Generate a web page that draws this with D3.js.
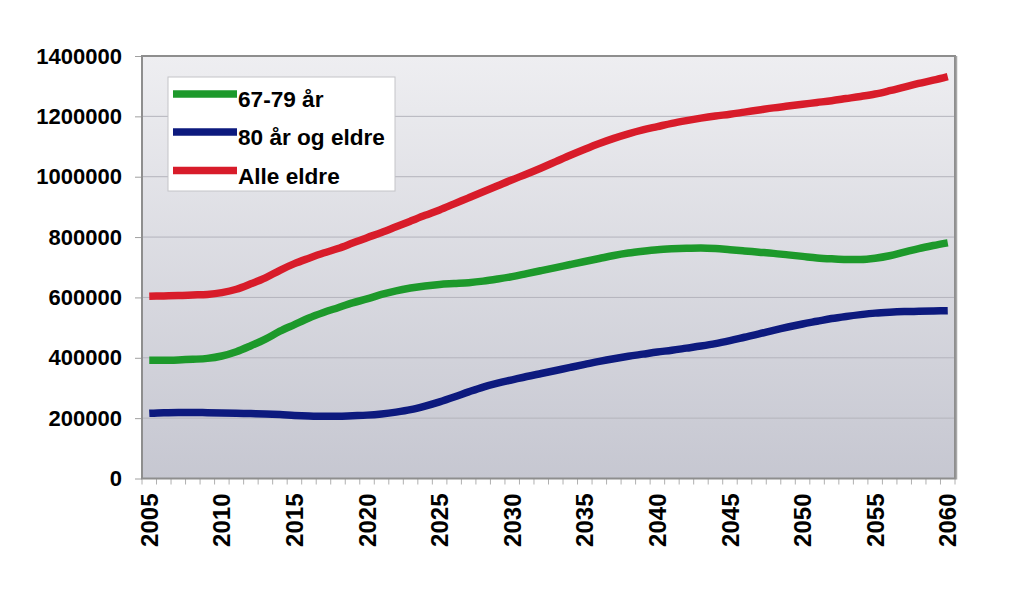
<!DOCTYPE html>
<html>
<head>
<meta charset="utf-8">
<script src="https://cdn.jsdelivr.net/npm/d3@7"></script>
<style>
  html, body { margin: 0; padding: 0; background: #ffffff; }
  svg { display: block; }
  text { font-family: "Liberation Sans", Arial, sans-serif; font-weight: bold; fill: #000; }
</style>
</head>
<body>
<svg id="chart" width="1023" height="595"></svg>
<script>
// ---- Data ----
const years = d3.range(2005, 2061);
const seriesNames = ["67-79 år", "80 år og eldre", "Alle eldre"];
const seriesColors = ["#1d992b", "#0d1a7e", "#d81c2a"];

const age6779 = [
  392000, 392000, 393000, 395000, 398000, 406000, 420000, 440000, 462000, 488000,
  510000, 532000, 550000, 566000, 582000, 595000, 610000, 622000, 631000, 638000,
  643000, 646000, 649000, 654000, 661000, 669000, 679000, 689000, 699000, 709000,
  719000, 729000, 739000, 747000, 753000, 758000, 761000, 763000, 764000, 762000,
  758000, 754000, 750000, 746000, 741000, 736000, 731000, 728000, 726000, 726000,
  730000, 738000, 750000, 762000, 772000, 781000
];
const age80plus = [
  216000, 218000, 219000, 219000, 218000, 217000, 216000, 215000, 214000, 212000,
  209000, 207000, 206000, 206000, 208000, 210000, 214000, 220000, 228000, 240000,
  254000, 270000, 287000, 303000, 316000, 327000, 338000, 348000, 358000, 368000,
  378000, 388000, 397000, 405000, 412000, 419000, 425000, 432000, 439000, 447000,
  457000, 468000, 479000, 491000, 502000, 512000, 521000, 530000, 537000, 543000,
  548000, 551000, 553000, 554000, 555000, 556000
];
const alleEldre = [
  604000, 605000, 606000, 608000, 610000, 616000, 627000, 645000, 665000, 690000,
  712000, 730000, 747000, 762000, 780000, 798000, 815000, 834000, 853000, 872000,
  890000, 910000, 930000, 950000, 970000, 990000, 1009000, 1029000, 1050000, 1071000,
  1091000, 1110000, 1127000, 1142000, 1155000, 1166000, 1177000, 1186000, 1194000, 1201000,
  1207000, 1214000, 1221000, 1228000, 1234000, 1240000, 1246000, 1252000, 1259000, 1266000,
  1274000, 1285000, 1297000, 1309000, 1320000, 1332000
];
const yTicks = [0, 200000, 400000, 600000, 800000, 1000000, 1200000, 1400000];
const xLabelYears = [2005, 2010, 2015, 2020, 2025, 2030, 2035, 2040, 2045, 2050, 2055, 2060];

const allSeries = [age6779, age80plus, alleEldre];

// ---- Layout ----
const svg = d3.select("#chart");
const plot = { left: 142, right: 955, top: 56, bottom: 478.5 };

const x = d3.scalePoint().domain(years).range([plot.left, plot.right]).padding(0.5);
const y = d3.scaleLinear().domain([0, 1400000]).range([plot.bottom, plot.top]);

// background gradient
const defs = svg.append("defs");
const grad = defs.append("linearGradient").attr("id", "bg").attr("x1", 0).attr("y1", 0).attr("x2", 0).attr("y2", 1);
grad.append("stop").attr("offset", "0%").attr("stop-color", "#eeeef1");
grad.append("stop").attr("offset", "100%").attr("stop-color", "#c6c7d1");

svg.append("rect")
  .attr("x", plot.left).attr("y", plot.top)
  .attr("width", plot.right - plot.left).attr("height", plot.bottom - plot.top)
  .attr("fill", "url(#bg)");

// gridlines
svg.append("g").selectAll("line").data(yTicks.filter(d => d > 0 && d < 1400000)).join("line")
  .attr("x1", plot.left).attr("x2", plot.right)
  .attr("y1", d => y(d)).attr("y2", d => y(d))
  .attr("stroke", "#b4b4bc").attr("stroke-width", 1);

// y axis
const yAxis = d3.axisLeft(y).tickValues(yTicks).tickSize(7).tickPadding(13).tickFormat(d3.format("d"));
const gy = svg.append("g").attr("transform", `translate(${plot.left},0)`).call(yAxis);
gy.select(".domain").remove();
gy.selectAll(".tick line").attr("stroke", "#a0a0a0");
gy.selectAll(".tick text").style("font-size", "22px").style("font-weight", "bold")
  .style("font-family", '"Liberation Sans", Arial, sans-serif').attr("fill", "#000");

// x axis ticks at category boundaries
const step = x.step();
const boundaries = d3.range(years.length + 1).map(i => plot.left + i * step);
svg.append("g").selectAll("line").data(boundaries).join("line")
  .attr("x1", d => d).attr("x2", d => d)
  .attr("y1", plot.bottom).attr("y2", plot.bottom + 6)
  .attr("stroke", "#b0b0b0").attr("stroke-width", 1);

// x labels
svg.append("g").selectAll("text").data(xLabelYears).join("text")
  .attr("transform", d => `translate(${x(d)},${plot.bottom + 15}) rotate(-90)`)
  .attr("text-anchor", "end")
  .attr("dy", "0.36em")
  .style("font-size", "24px")
  .text(d => d);

// plot border
svg.append("rect")
  .attr("x", plot.left).attr("y", plot.top)
  .attr("width", plot.right - plot.left).attr("height", plot.bottom - plot.top)
  .attr("fill", "none").attr("stroke", "#8e8e8e").attr("stroke-width", 2);
svg.append("line")
  .attr("x1", plot.right + 1.5).attr("x2", plot.right + 1.5)
  .attr("y1", plot.top).attr("y2", plot.bottom + 1)
  .attr("stroke", "#a8a8a8").attr("stroke-width", 1.5);

// lines
const line = d3.line()
  .x((d, i) => x(years[i]))
  .y(d => y(d))
  .curve(d3.curveMonotoneX);

svg.append("g").selectAll("path").data(allSeries).join("path")
  .attr("d", d => line(d))
  .attr("fill", "none")
  .attr("stroke", (d, i) => seriesColors[i])
  .attr("stroke-width", 7.5)
  .attr("stroke-linejoin", "round")
  .attr("stroke-linecap", "butt");

// legend
const lg = svg.append("g");
lg.append("rect")
  .attr("x", 168).attr("y", 77).attr("width", 227).attr("height", 114)
  .attr("fill", "#ffffff").attr("stroke", "#c4c4c8").attr("stroke-width", 1);
const legendRows = [94, 132, 170.5];
seriesNames.forEach((name, i) => {
  lg.append("line")
    .attr("x1", 173).attr("x2", 237)
    .attr("y1", legendRows[i]).attr("y2", legendRows[i])
    .attr("stroke", seriesColors[i]).attr("stroke-width", 7.5);
  lg.append("text")
    .attr("x", 238).attr("y", legendRows[i] + 13)
    .style("font-size", "22.6px")
    .text(name);
});
</script>
</body>
</html>
